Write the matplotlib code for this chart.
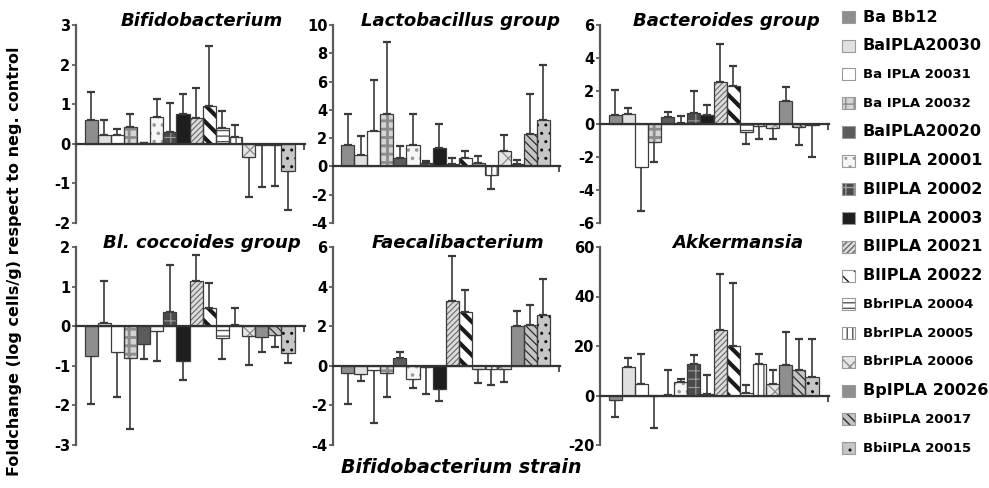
import matplotlib
matplotlib.use("Agg")
import matplotlib.pyplot as plt
from matplotlib.patches import Rectangle
import numpy as np

strains = ["Ba Bb12", "BaIPLA20030", "Ba IPLA 20031", "Ba IPLA 20032",
           "BaIPLA20020", "BlIPLA 20001", "BlIPLA 20002", "BlIPLA 20003",
           "BlIPLA 20021", "BlIPLA 20022", "BbrIPLA 20004", "BbrIPLA 20005",
           "BbrIPLA 20006", "BpIPLA 20026", "BbiIPLA 20017", "BbiIPLA 20015"]

# mean fold change (log cells/g) and SD per strain, one pair per group
bifido_mean = [0.61, 0.23, 0.23, 0.42, 0.02, 0.68, 0.29, 0.74, 0.64, 0.95, 0.39, 0.16, -0.34, -0.04, -0.04, -0.68]
bifido_sd = [0.69, 0.38, 0.14, 0.34, 0.0, 0.46, 0.73, 0.51, 0.78, 1.51, 0.45, 0.31, 1.00, 1.06, 1.03, 1.00]

lacto_mean = [1.48, 0.82, 2.47, 3.69, 0.59, 1.48, 0.24, 1.32, 0.16, 0.59, 0.24, -0.59, 1.06, 0.19, 2.31, 3.25]
lacto_sd = [2.24, 1.30, 3.65, 5.13, 0.82, 2.21, 0.16, 1.67, 0.43, 0.47, 0.47, 1.01, 1.18, 0.28, 2.80, 3.93]

bactero_mean = [0.53, 0.61, -2.63, -1.11, 0.40, 0.05, 0.67, 0.53, 2.55, 2.33, -0.49, -0.10, -0.24, 1.42, -0.16, -0.06]
bactero_sd = [1.55, 0.36, 2.63, 1.20, 0.33, 0.42, 1.31, 0.60, 2.27, 1.17, 0.72, 0.79, 0.67, 0.81, 1.10, 1.94]

cocco_mean = [-0.76, 0.08, -0.66, -0.80, -0.45, -0.11, 0.37, -0.87, 1.13, 0.46, -0.29, 0.03, -0.24, -0.28, -0.22, -0.67]
cocco_sd = [1.21, 1.05, 1.13, 1.79, 0.39, 0.77, 1.18, 0.50, 0.67, 0.62, 0.55, 0.43, 0.75, 0.38, 0.31, 0.26]

faecali_mean = [-0.37, -0.39, -0.22, -0.37, 0.37, -0.68, -0.08, -1.18, 3.29, 2.70, -0.17, -0.17, -0.14, 1.99, 2.06, 2.57]
faecali_sd = [1.54, 0.37, 2.65, 1.20, 0.31, 0.42, 1.32, 0.59, 2.28, 1.15, 0.71, 0.79, 0.67, 0.78, 1.01, 1.82]

akker_mean = [-2.0, 11.5, 4.7, -0.3, 0.3, 5.4, 12.8, 0.7, 26.6, 19.9, 0.9, 12.8, 4.7, 12.2, 10.4, 7.4]
akker_sd = [6.8, 3.6, 12.2, 12.8, 10.1, 1.4, 3.4, 7.7, 22.3, 25.4, 3.2, 3.8, 5.7, 13.5, 12.3, 15.3]

groups = ["Bifidobacterium", "Lactobacillus group", "Bacteroides group",
          "Bl. coccoides group", "Faecalibacterium", "Akkermansia"]
means = [bifido_mean, lacto_mean, bactero_mean, cocco_mean, faecali_mean, akker_mean]
sds = [bifido_sd, lacto_sd, bactero_sd, cocco_sd, faecali_sd, akker_sd]
yticks = [np.arange(-2, 4, 1), np.arange(-4, 12, 2), np.arange(-6, 8, 2),
          np.arange(-3, 3, 1), np.arange(-4, 8, 2), np.arange(-20, 80, 20)]

# fill, hatch pattern, hatch colour, hatch line width for each strain
face = ['#8e8e8e', '#e0e0e0', '#ffffff', '#d4d4d4', '#5c5c5c', '#f6f6f6', '#4a4a4a', '#1e1e1e',
        '#dcdcdc', '#ffffff', '#ffffff', '#ffffff', '#e6e6e6', '#8f8f8f', '#c4c4c4', '#c6c6c6']
hatches = [None, None, None, '++', None, '..', '++', None,
           '//////', '\\\\', '---', '|||', 'xx', None, '\\\\\\\\', '..']
hatch_col = ['#8e8e8e', '#e0e0e0', '#ffffff', '#8c8c8c', '#5c5c5c', '#9a9a9a', '#9c9c9c', '#1e1e1e',
             '#6a6a6a', '#1a1a1a', '#555555', '#555555', '#8a8a8a', '#8f8f8f', '#2e2e2e', '#111111']
hatch_lw = [1, 1, 1, 2.0, 1, 1.4, 0.8, 1, 0.8, 3.0, 1.0, 1.0, 0.9, 1, 0.9, 1.0]
edge = '#3c3c3c'

plt.rcParams['font.family'] = 'DejaVu Sans'
plt.rcParams['font.weight'] = 'bold'

fig = plt.figure(figsize=(9.89, 4.88), dpi=100)
W, H = 989.0, 488.0

# panel frames in pixels: (left, top, right, bottom)
frames = [(76, 25, 305, 223), (333, 25, 560, 223), (600, 25, 829, 223),
          (76, 247, 305, 445), (333, 247, 560, 445), (600, 247, 829, 445)]
title_x = [0.55, 0.56, 0.55, 0.55, 0.55, 0.60]

x = np.arange(len(strains))


def hatched_bar(ax, i, val):
    """Draw a single hatched bar with its own hatch colour and a dark outline."""
    b = ax.bar(x[i], val, width=1.0, color=face[i], edgecolor=hatch_col[i],
               linewidth=0, hatch=hatches[i], zorder=2)[0]
    if hatches[i] is not None and hasattr(b, 'set_hatch_linewidth'):
        b.set_hatch_linewidth(hatch_lw[i])
    ax.bar(x[i], val, width=1.0, fill=False, edgecolor=edge, linewidth=0.9, zorder=3)


for k, ax_frame in enumerate(frames):
    l, t, r, btm = ax_frame
    ax = fig.add_axes([l / W, (H - btm) / H, (r - l) / W, (btm - t) / H])
    vals = np.array(means[k])
    sd = np.array(sds[k])
    for i in range(len(strains)):
        with plt.rc_context({'hatch.linewidth': hatch_lw[i]}):
            hatched_bar(ax, i, vals[i])
    upper = np.where(vals >= 0, sd, 0)
    lower = np.where(vals < 0, sd, 0)
    ax.errorbar(x, vals, yerr=[lower, upper], fmt='none', ecolor='#3a3a3a',
                elinewidth=1.2, capsize=2.8, capthick=1.6, zorder=1)

    yt = yticks[k]
    ax.set_ylim(yt[0], yt[-1])
    ax.set_xlim(-1.15, 16.3)
    ax.set_yticks(yt)
    ax.set_yticklabels([str(v) for v in yt], fontsize=10.5, fontweight='bold')
    ax.tick_params(axis='y', direction='out', length=3, width=1.2, color='#555555', pad=1)
    ax.set_xticks([16.25])
    ax.set_xticklabels([''])
    ax.tick_params(axis='x', direction='out', length=4, width=1.2, color='#333333')
    for s in ('top', 'right'):
        ax.spines[s].set_visible(False)
    ax.spines['left'].set_color('#5a5a5a')
    ax.spines['left'].set_linewidth(1.6)
    ax.spines['bottom'].set_position(('data', 0))
    ax.spines['bottom'].set_color('#333333')
    ax.spines['bottom'].set_linewidth(1.6)
    ax.spines['bottom'].set_zorder(4)
    ax.patch.set_alpha(0)
    ax.text(title_x[k], 1.02, groups[k], transform=ax.transAxes, ha='center', va='center',
            fontsize=13, fontweight='bold', fontstyle='italic')

fig.text(15 / W, 0.465, "Foldchange (log cells/g) respect to neg. control", rotation=90,
         ha='center', va='center', fontsize=11.5, fontweight='bold')
fig.text(461 / W, 0.043, "Bifidobacterium strain", ha='center', va='center',
         fontsize=13.7, fontweight='bold', fontstyle='italic')

# key down the right-hand side
label_size = [11.5, 11.5, 9.5, 9.5, 11.5, 11.5, 11.5, 11.5,
              11.5, 11.5, 9.5, 9.5, 9.5, 11.5, 9.5, 9.5]
y_top, y_bot = 17.0, 448.0
step = (y_bot - y_top) / (len(strains) - 1)
for i, name in enumerate(strains):
    yc = y_top + i * step
    sw = Rectangle((842 / W, (H - yc - 6) / H), 13 / W, 12 / H, transform=fig.transFigure,
                   facecolor=face[i], edgecolor=hatch_col[i], hatch=hatches[i], linewidth=0)
    fig.add_artist(sw)
    fig.add_artist(Rectangle((842 / W, (H - yc - 6) / H), 13 / W, 12 / H, transform=fig.transFigure,
                             fill=False, edgecolor='#9a9a9a', linewidth=0.8))
    fig.text(863 / W, (H - yc) / H, name, ha='left', va='center',
             fontsize=label_size[i], fontweight='bold')

fig.savefig("out.png", dpi=100, facecolor='white')
